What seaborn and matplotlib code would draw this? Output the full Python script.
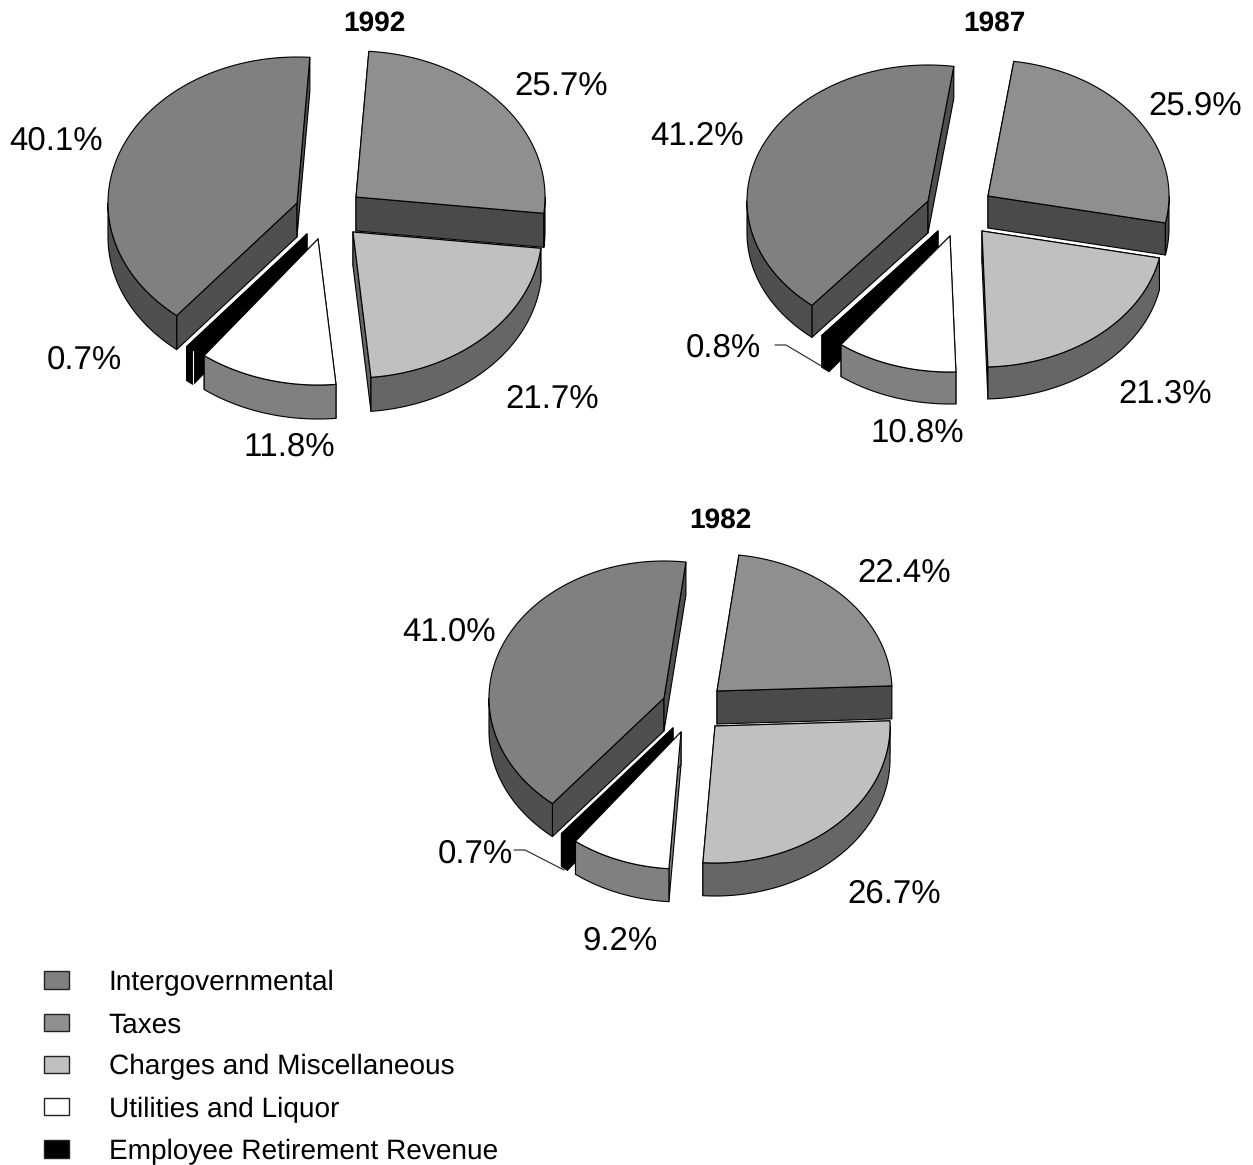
import numpy as np
import seaborn as sns
import matplotlib
matplotlib.use("Agg")
import matplotlib.pyplot as plt
from matplotlib.patches import Patch

# Revenue shares by source, percent
categories = ["Intergovernmental", "Taxes", "Charges and Miscellaneous",
              "Utilities and Liquor", "Employee Retirement Revenue"]
years = ["1992", "1987", "1982"]
shares_1992 = [40.1, 25.7, 21.7, 11.8, 0.7]
shares_1987 = [41.2, 25.9, 21.3, 10.8, 0.8]
shares_1982 = [41.0, 22.4, 26.7, 9.2, 0.7]
shares = [shares_1992, shares_1987, shares_1982]

# Appearance of each source
top_colors = sns.color_palette(["#808080", "#8f8f8f", "#c0c0c0", "#ffffff", "#000000"])
wall_colors = sns.color_palette(["#4f4f4f", "#4a4a4a", "#666666", "#808080", "#000000"])

# Slices run clockwise from this order, starting at start_angle
clockwise = [1, 2, 3, 4, 0]
paint_order = [0, 1, 4, 2, 3]

# Layout of each pie, in figure pixels
pie_layout = [
    dict(center=(326, 215), radii=(189, 146), depth=34, start_angle=3.9,
         shift=[(-29, -12), (30, -18), (27, 17), (-8, 24), (-19, 19)]),
    dict(center=(958, 216), radii=(181, 136), depth=32, start_angle=8.2,
         shift=[(-30, -15), (30, -20), (24, 15), (-8, 20), (-20, 15)]),
    dict(center=(692, 712), radii=(175, 137), depth=33, start_angle=7.2,
         shift=[(-28, -14), (25, -21), (23, 14), (-11, 20), (-19, 16)]),
]
title_pos = [(374, 23), (994, 23), (720, 520)]
label_pos = [
    [(56, 141), (561, 86), (552, 399), (289, 447), (84, 360)],
    [(697, 136), (1195, 106), (1165, 394), (917, 433), (723, 348)],
    [(449, 632), (904, 573), (894, 894), (620, 941), (475, 854)],
]
leader_lines = [
    None,
    ([775, 786, 823], [345, 345, 367]),
    ([514, 525, 564], [850, 850, 870]),
]

sns.set_theme(style="white")
plt.rcParams["font.family"] = ["Liberation Sans", "DejaVu Sans"]
plt.rcParams["text.hinting"] = "no_hinting"
plt.rcParams["text.hinting_factor"] = 1

fig = plt.figure(figsize=(12.53, 11.65), dpi=100, facecolor="white")
ax = fig.add_axes([0, 0, 1, 1])
ax.set_xlim(0, 1253)
ax.set_ylim(1165, 0)
ax.axis("off")

EDGE = dict(edgecolor="black", linewidth=0.8, joinstyle="round")


def rim_points(apex, radii, a0, a1):
    """Points on the elliptical rim, angles in degrees clockwise from the top."""
    theta = np.radians(np.linspace(a0, a1, max(int(abs(a1 - a0) * 2), 2)))
    return apex[0] + radii[0] * np.sin(theta), apex[1] - radii[1] * np.cos(theta)


def draw_slice(apex, radii, depth, a0, a1, top, wall, highlight=False):
    rx, ry = rim_points(apex, radii, a0, a1)
    # Cut faces go down first; the rim wall and top face then cover what faces away
    for x, y in ((rx[0], ry[0]), (rx[-1], ry[-1])):
        ax.fill([apex[0], x, x, apex[0]],
                [apex[1], y, y + depth, apex[1] + depth], color=wall, **EDGE)
    front_a0, front_a1 = max(a0, 90), min(a1, 270)
    if front_a1 > front_a0:
        fx, fy = rim_points(apex, radii, front_a0, front_a1)
        ax.fill(np.r_[fx, fx[::-1]], np.r_[fy, fy[::-1] + depth], color=wall, **EDGE)
    ax.fill(np.r_[apex[0], rx], np.r_[apex[1], ry], color=top, **EDGE)
    if highlight:
        ax.plot([rx[0], rx[0]], [ry[0], ry[0] + depth], color="white", lw=0.8)


for i, (year, values, layout) in enumerate(zip(years, shares, pie_layout)):
    angles = {}
    a = layout["start_angle"]
    for k in clockwise:
        angles[k] = (a, a + values[k] * 3.6)
        a += values[k] * 3.6
    cx, cy = layout["center"]
    for k in paint_order:
        dx, dy = layout["shift"][k]
        draw_slice((cx + dx, cy + dy), layout["radii"], layout["depth"],
                   angles[k][0], angles[k][1], top_colors[k], wall_colors[k],
                   highlight=(i == 0 and k == 4))
    for k, (x, y) in enumerate(label_pos[i]):
        ax.text(x, y, f"{values[k]:.1f}%", fontsize=23.8, color="black",
                ha="center", va="center")
    ax.text(*title_pos[i], year, fontsize=20.4, fontweight="bold", color="black",
            ha="center", va="center")
    if leader_lines[i] is not None:
        ax.plot(*leader_lines[i], color="#222222", lw=0.8)

handles = [Patch(facecolor=c, edgecolor="#222222", linewidth=1.0) for c in top_colors]
ax.legend(handles, categories, loc="lower left",
          bbox_to_anchor=(44 / 1253, 1 - 1165 / 1165), bbox_transform=ax.transAxes,
          frameon=False, fontsize=20.45, handlelength=0.88, handleheight=0.56,
          handletextpad=1.4, labelspacing=0.57, borderpad=0, borderaxespad=0,
          labelcolor="black")

fig.savefig("out.png", dpi=100, facecolor="white")
